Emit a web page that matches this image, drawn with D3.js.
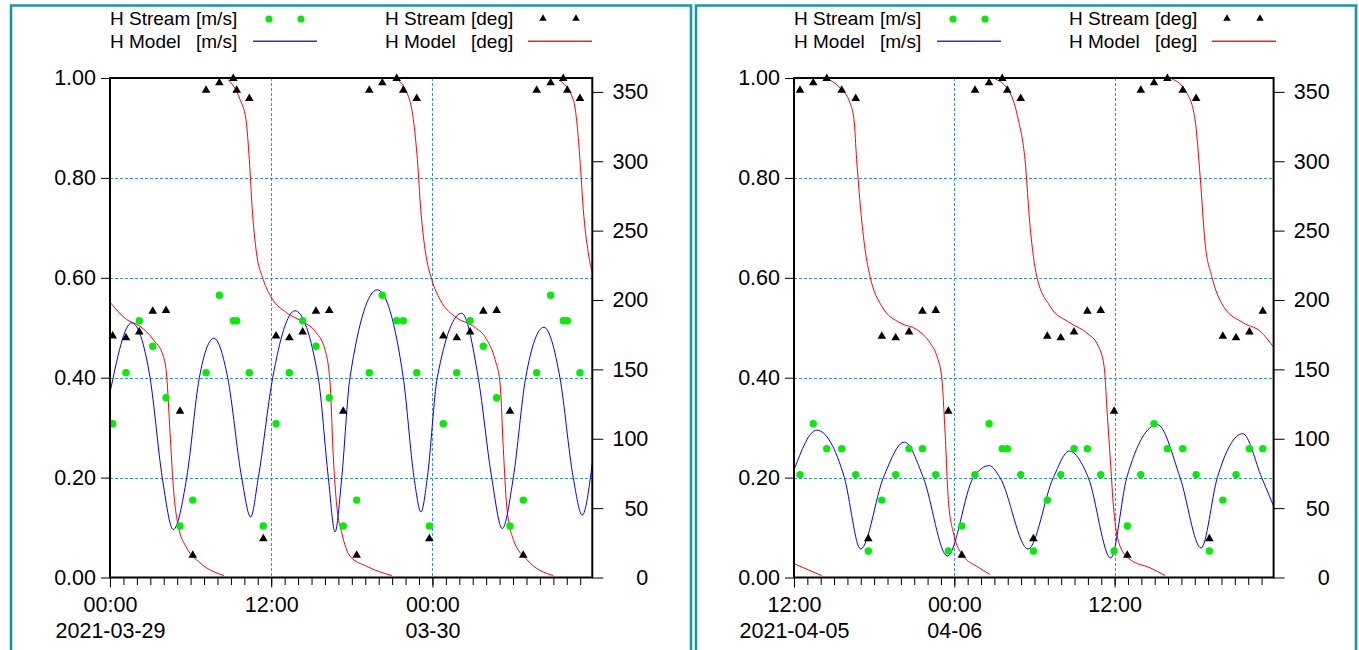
<!DOCTYPE html>
<html><head><meta charset="utf-8">
<script src="https://cdn.jsdelivr.net/npm/d3@7"></script>
<style>
body{margin:0;background:#fff;}
svg{display:block;font-family:"Liberation Sans",Arial,sans-serif;}
text{white-space:pre;}
</style></head><body>
<svg id="c" width="1359" height="650"></svg>
<script>
// ---------- LEFT PANEL DATA (hours since 2021-03-29 00:00) ----------
const leftStart = "2021-03-29T00:00:00Z";
const leftStreamHours = [0.20,1.19,2.18,3.18,4.17,5.21,6.16,7.15,8.14,9.18,9.43,10.37,11.41,
  12.36,13.35,14.34,15.33,16.32,17.36,18.36,19.30,20.27,21.34,21.83,22.83,23.77,
  24.81,25.81,26.80,27.79,28.78,29.77,30.76,31.76,32.80,33.74,34.04,34.98];
const leftStreamSpeed = [0.308,0.41,0.514,0.463,0.36,0.103,0.155,0.41,0.565,0.514,0.514,0.41,0.103,
  0.308,0.41,0.514,0.463,0.36,0.103,0.155,0.41,0.565,0.514,0.514,0.41,0.103,
  0.308,0.41,0.514,0.463,0.36,0.103,0.155,0.41,0.565,0.514,0.514,0.41];
const leftStreamDir = [174,172.7,177,191.9,192.4,119.8,16.1,351.2,356.5,359.6,351.2,345.2,27.9,
  174,172.7,177,191.9,192.4,119.8,16.1,351.2,356.5,359.6,351.2,345.2,27.9,
  174,172.7,177,191.9,192.4,119.8,16.1,351.2,356.5,359.6,351.2,345.2];
const leftModelSpeedHours = [0,1.62,2.98,3.89,4.71,5.71,6.65,7.74,8.76,9.80,10.47,11.04,12.11,13.77,15.50,16.25,16.75,17.25,17.86,19.90,21.83,22.63,23.15,23.62,24.36,26.18,27.41,28.41,29.20,30.02,30.94,32.30,33.49,34.48,35.15,35.90];
const leftModelSpeed = [0.37,0.51,0.40,0.20,0.096,0.20,0.40,0.479,0.40,0.20,0.121,0.20,0.40,0.534,0.40,0.20,0.091,0.20,0.40,0.576,0.40,0.20,0.131,0.20,0.40,0.529,0.40,0.20,0.098,0.20,0.40,0.501,0.40,0.20,0.125,0.229];
const leftModelDirHours = [0,1.24,2.23,3.22,3.97,4.22,4.47,4.71,5.08,5.71,6.70,8.49,8.6,
  8.80,9.68,10.12,10.37,10.59,10.87,11.41,12.03,13.15,14.27,15.26,16.00,16.38,16.62,16.88,17.25,17.86,19.10,20.97,21.1,
  21.22,22.21,22.58,22.88,23.13,23.45,23.95,24.57,25.81,27.05,28.04,28.66,29.03,29.28,29.53,30.02,31.02,33.00,33.2,
  33.44,34.48,34.78,34.98,35.23,35.60,35.90];
const leftModelDir = [198.4,185.9,181.1,171.5,159.5,145.1,104.3,65.8,37,21.4,10.6,1.4,null,
  358.9,344.5,330,301.2,265.2,236.4,214.7,201.6,190.8,184.7,177.5,164.3,140.3,87.4,51.4,32.2,15.4,8.1,1.4,null,
  360,346.8,330,301.2,265.2,236.4,214.7,200.3,187.1,181.1,171.5,157.1,140.3,92.2,51.4,27.4,13,1.4,null,
  358.4,344.5,325.3,301.2,265.2,234,219.6];
const leftTickHours = [0,12,24];
const leftTickLabels = [["00:00","2021-03-29"],["12:00",""],["00:00","03-30"]];

// ---------- RIGHT PANEL DATA (hours since 2021-04-05 12:00) ----------
const rightStart = "2021-04-05T12:00:00Z";
const rightStreamHours = [0.45,1.44,2.45,3.57,4.62,5.56,6.57,7.61,8.61,9.61,10.61,11.55,12.56,
  13.55,14.60,15.59,15.97,16.97,17.92,18.96,19.97,20.96,21.96,22.96,23.96,24.95,
  25.96,26.95,27.95,29.10,30.10,31.09,32.10,33.09,34.09,35.09];
const rightStreamSpeed = [0.206,0.308,0.258,0.258,0.206,0.053,0.155,0.206,0.258,0.258,0.206,0.053,0.103,
  0.206,0.308,0.258,0.258,0.206,0.053,0.155,0.206,0.258,0.258,0.206,0.053,0.103,
  0.206,0.308,0.258,0.258,0.206,0.053,0.155,0.206,0.258,0.258];
const rightStreamDir = [351.2,356.5,359.6,351.2,345.2,27.9,173.9,172.7,177,191.9,192.4,119.8,16.1,
  351.2,356.5,359.6,351.2,345.2,27.9,173.9,172.7,177,191.9,192.4,119.8,16.1,
  351.2,356.5,359.6,351.2,345.2,27.9,173.9,172.7,177,191.9];
const rightModelSpeedHours = [0,1.70,3.77,4.99,6.69,8.26,9.68,11.48,13.42,14.62,15.42,17.52,19.41,20.61,22.03,23.71,24.91,27.20,28.90,30.47,31.69,33.59,35.01,35.90];
const rightModelSpeed = [0.215,0.295,0.20,0.057,0.20,0.271,0.20,0.043,0.20,0.224,0.20,0.057,0.20,0.253,0.20,0.039,0.20,0.306,0.20,0.059,0.20,0.288,0.20,0.143];
const rightModelDirHours = [0,2.07,2.2,
  2.45,3.44,4.19,4.49,4.69,4.99,5.32,5.69,6.57,7.94,9.19,10.18,10.68,11.06,11.31,11.55,11.93,12.68,13.68,14.67,14.8,
  15.05,16.17,16.79,17.29,17.67,18.17,19.17,20.66,21.91,22.78,23.21,23.46,23.71,23.91,24.41,25.16,26.65,27.78,28.0,
  28.28,29.40,30.02,30.40,30.77,31.27,32.14,33.64,34.89,35.90];
const rightModelDir = [9.9,1.4,null,
  359.6,352.9,342.1,330,301.2,265.2,236.4,217.1,195.5,183.5,178.7,169.1,160,143.9,104.3,56.2,32.2,15.4,8.1,2.2,null,
  359.4,349.3,330,301.2,253.2,217.1,195.5,183.5,176.3,166.7,152.3,116.2,80.2,51.4,22.6,13,7,1.4,null,
  359.4,349.3,330,289.2,241.2,217.1,195.5,183.5,177.5,166];
const rightTickHours = [0,12,24];
const rightTickLabels = [["12:00","2021-04-05"],["00:00","04-06"],["12:00",""]];

// ---------- AXES / LEGEND ----------
const speedTicks = [0,0.2,0.4,0.6,0.8,1.0];
const dirTicks = [0,50,100,150,200,250,300,350];
const legendNames = ["H Stream","H Model","H Stream","H Model"];
const legendUnits = ["[m/s]","[m/s]","[deg]","[deg]"];

const svg = d3.select("#c");
const TEAL = "#1797a7", GRID = "#2f8ef2", GREEN = "#00ee00";
const TOP = 78, BOT = 577.5, SPAN = 35.9;
const FONT = "'Liberation Sans',Arial,sans-serif";

// panel frames
svg.append("path").attr("d","M11,655V5.5H691V655").attr("fill","none").attr("stroke",TEAL).attr("stroke-width",2.6);
svg.append("path").attr("d","M696,655V5.5H1356V655").attr("fill","none").attr("stroke",TEAL).attr("stroke-width",2.6);

function toDate(start, h){ return h==null?null:new Date(Date.parse(start) + h*3600000); }

function panel(p){
  const s = Date.parse(p.start);
  const x = d3.scaleUtc().domain([new Date(s), new Date(s + SPAN*3600000)]).range([p.x0, p.x1]);
  const yS = d3.scaleLinear().domain([0,1]).range([BOT, TOP]);
  const yD = d3.scaleLinear().domain([0,360]).range([BOT, TOP]);
  const g = svg.append("g");
  const clipId = "clip"+p.x0;
  g.append("clipPath").attr("id",clipId).append("rect")
    .attr("x",p.x0).attr("y",TOP-8).attr("width",p.x1-p.x0).attr("height",BOT-TOP+8);

  // grid
  const grid = g.append("g").style("stroke",GRID).style("stroke-width","1px").style("stroke-dasharray","3,2");
  grid.selectAll("line.h").data(speedTicks.slice(1,-1)).join("line").attr("class","h")
    .attr("x1",p.x0).attr("x2",p.x1).attr("y1",d=>Math.round(yS(d))+0.5).attr("y2",d=>Math.round(yS(d))+0.5);
  grid.selectAll("line.v").data(p.ticks.slice(1)).join("line").attr("class","v")
    .attr("x1",d=>Math.round(x(toDate(p.start,d)))+0.5).attr("x2",d=>Math.round(x(toDate(p.start,d)))+0.5)
    .attr("y1",TOP).attr("y2",BOT);

  // model lines
  const dirData = p.mdh.map((h,i)=>({t:toDate(p.start,h), v:p.md[i]}));
  const spdData = p.msh.map((h,i)=>({t:toDate(p.start,h), v:p.ms[i]}));
  const cg = g.append("g").attr("clip-path",`url(#${clipId})`);
  cg.append("path").datum(dirData).attr("fill","none").attr("stroke","#ff0000").attr("stroke-width",1)
    .attr("d", d3.line().defined(d=>d.v!=null).x(d=>x(d.t)).y(d=>yD(d.v)).curve(d3.curveMonotoneX));
  cg.append("path").datum(spdData).attr("fill","none").attr("stroke","#0000ff").attr("stroke-width",1)
    .attr("d", d3.line().x(d=>x(d.t)).y(d=>yS(d.v)).curve(d3.curveMonotoneX));

  // stream points
  const pts = p.sh.map((h,i)=>({t:toDate(p.start,h), s:p.ss[i], d:p.sd[i]}));
  g.append("g").selectAll("circle").data(pts).join("circle")
    .attr("cx",d=>x(d.t)).attr("cy",d=>yS(d.s)).attr("r",3.7).attr("fill",GREEN);
  const tri = d3.symbol().type(d3.symbolTriangle).size(32);
  g.append("g").selectAll("path").data(pts).join("path")
    .attr("transform",d=>`translate(${x(d.t)},${yD(d.d)})`).attr("d",tri).attr("fill","#000");

  // frame
  g.append("rect").attr("x",p.x0).attr("y",TOP).attr("width",p.x1-p.x0).attr("height",BOT-TOP)
    .attr("fill","none").attr("stroke","#000").attr("stroke-width",2);

  // left axis
  const la = g.append("g").attr("transform",`translate(${p.x0},0)`);
  la.call(d3.axisLeft(yS).tickValues(d3.range(0,1.0001,0.04)).tickSize(6).tickFormat(""));
  la.call(d3.axisLeft(yS).tickValues(speedTicks).tickSize(9).tickPadding(5).tickFormat(d3.format(".2f")));
  la.select(".domain").remove();
  // right axis
  const ra = g.append("g").attr("transform",`translate(${p.x1},0)`);
  ra.call(d3.axisRight(yD).tickValues(d3.range(0,361,10)).tickSize(8).tickFormat(""));
  ra.call(d3.axisRight(yD).tickValues(dirTicks).tickSize(11).tickFormat(d3.format("d")));
  ra.select(".domain").remove();
  ra.selectAll("text").attr("text-anchor","end").attr("x",56);
  // bottom axis
  const ba = g.append("g").attr("transform",`translate(0,${BOT})`);
  const hourTicks = d3.range(0, SPAN, 1).map(h=>toDate(p.start,h));
  ba.call(d3.axisBottom(x).tickValues(hourTicks).tickSize(7.5).tickFormat(""));
  const major = ba.append("g").call(d3.axisBottom(x).tickValues(p.ticks.map(h=>toDate(p.start,h))).tickSize(10).tickFormat(""));
  ba.selectAll(".domain").remove();
  major.selectAll(".tick").each(function(d,i){
    const t = d3.select(this).append("text").attr("text-anchor","middle");
    t.append("tspan").attr("x",0).attr("y",34.5).text(p.labels[i][0]);
    if(p.labels[i][1]) t.append("tspan").attr("x",0).attr("y",60.5).text(p.labels[i][1]);
  });
  [la, ra, ba].forEach(a=>a.attr("font-size",null).attr("font-family",null));
  ba.selectAll("g").attr("font-size",null).attr("font-family",null);
  g.selectAll(".tick line").style("stroke","#000");
  g.selectAll(".tick text").style("font-size","21.5px").style("font-family",FONT).style("fill","#000");

  // legend
  const lg = g.append("g");
  const lx = [p.x0, p.x0, p.x0+275, p.x0+275], ly = [25, 48, 25, 48];
  legendNames.forEach((n,i)=>{
    lg.append("text").attr("x",lx[i]).attr("y",ly[i]).text(n).style("font-size","19px").style("fill","#000");
    lg.append("text").attr("x",lx[i]+86).attr("y",ly[i]).text(legendUnits[i]).style("font-size","19px").style("fill","#000");
  });
  [159,191].forEach(o=>lg.append("circle").attr("cx",p.x0+o).attr("cy",19).attr("r",3.6).style("fill",GREEN));
  [433,466].forEach(o=>lg.append("path").attr("transform",`translate(${p.x0+o},18.5)`).attr("d",d3.symbol().type(d3.symbolTriangle).size(24)()).style("fill","#000"));
  lg.append("rect").attr("x",p.x0+143).attr("width",64).attr("y",40.5).attr("height",1.5).style("fill","#2a2aff");
  lg.append("rect").attr("x",p.x0+418).attr("width",64).attr("y",40.5).attr("height",1.5).style("fill","#ff2020");
}

panel({start:leftStart, x0:110, x1:592.3, ticks:leftTickHours, labels:leftTickLabels,
  sh:leftStreamHours, ss:leftStreamSpeed, sd:leftStreamDir,
  msh:leftModelSpeedHours, ms:leftModelSpeed, mdh:leftModelDirHours, md:leftModelDir});
panel({start:rightStart, x0:794, x1:1273.6, ticks:rightTickHours, labels:rightTickLabels,
  sh:rightStreamHours, ss:rightStreamSpeed, sd:rightStreamDir,
  msh:rightModelSpeedHours, ms:rightModelSpeed, mdh:rightModelDirHours, md:rightModelDir});
</script>
</body></html>
